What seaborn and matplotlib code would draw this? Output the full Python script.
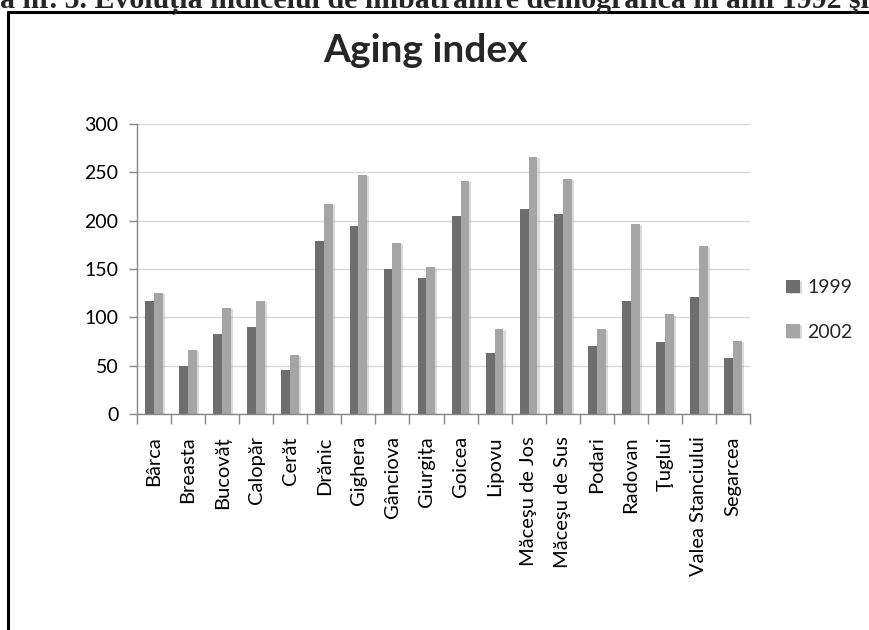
import matplotlib
matplotlib.use('Agg')
import matplotlib.pyplot as plt
import matplotlib.patheffects as pe
from matplotlib.lines import Line2D
import numpy as np
import pandas as pd
import seaborn as sns

# date
communes = ['Bârca', 'Breasta', 'Bucovăț', 'Calopăr', 'Cerăt', 'Drănic', 'Gighera',
            'Gânciova', 'Giurgița', 'Goicea', 'Lipovu', 'Măceşu de Jos', 'Măceşu de Sus',
            'Podari', 'Radovan', 'Ţuglui', 'Valea Stanciului', 'Segarcea']
years = ['1999', '2002']
values_1999 = [117, 50, 83, 90, 46, 179, 194, 150, 141, 205, 63, 212, 207, 70, 117, 74, 121, 58]
values_2002 = [125, 66, 110, 117, 61, 217, 247, 177, 152, 241, 88, 266, 243, 88, 197, 103, 174, 76]
y_ticks = [0, 50, 100, 150, 200, 250, 300]

caption = 'a nr. 5. Evoluția indicelui de îmbătrânire demografică în anii 1992 şi'
title = 'Aging index'

df = pd.DataFrame({
    'commune': communes * 2,
    'year': [years[0]] * len(communes) + [years[1]] * len(communes),
    'value': values_1999 + values_2002,
})

sns.set_theme(style='white')
plt.rcParams['font.family'] = ['Lato', 'DejaVu Sans']

fig = plt.figure(figsize=(8.69, 6.30), dpi=100)
ax = fig.add_axes([137 / 869, 1 - 414 / 630, 613 / 869, 290 / 630])

sns.barplot(data=df, x='commune', y='value', hue='year', palette=['#6e6e6e', '#a5a5a5'],
            width=0.52, saturation=1, linewidth=0, ax=ax)

# umbra barelor (ca in Excel)
for p in ax.patches:
    p.set_path_effects([pe.SimplePatchShadow(offset=(1.5, -0.8), shadow_rgbFace='#9a9a9a', alpha=0.35),
                        pe.Normal()])

ax.set_xlim(-0.5, len(communes) - 0.5)
ax.set_ylim(0, 300)
ax.set_yticks(y_ticks)
ax.set_xlabel('')
ax.set_ylabel('')
ax.set_xticks(range(len(communes)))
ax.set_xticklabels(communes, rotation=90, va='top', ha='center')
ax.set_xticks(np.arange(-0.5, len(communes), 1), minor=True)
ax.tick_params(axis='x', which='major', length=0, pad=16, labelsize=14.5, colors='#000000')
ax.tick_params(axis='x', which='minor', length=7, width=1, color='#868686', direction='out', bottom=True)
ax.tick_params(axis='y', length=5.5, width=1, color='#868686', direction='out', left=True,
               pad=8, labelsize=14, labelcolor='#000000')

ax.yaxis.grid(True, color='#d9d9d9', lw=1)
ax.set_axisbelow(True)
for s in ['top', 'right']:
    ax.spines[s].set_visible(False)
for s in ['left', 'bottom']:
    ax.spines[s].set_color('#868686')
    ax.spines[s].set_linewidth(1)

handles, labels = ax.get_legend_handles_labels()
ax.legend_.remove()
fig.legend(handles, labels, loc='center left', bbox_to_anchor=(786 / 869, 1 - 310 / 630),
           bbox_transform=fig.transFigure, frameon=False, fontsize=14,
           handlelength=0.7, handleheight=0.7, handletextpad=0.4, labelspacing=1.4,
           borderpad=0, borderaxespad=0)

fig.text(425 / 869, 1 - 50 / 630, title, ha='center', va='center', fontsize=28, fontweight='bold')

# chenarul si legenda figurii din document
fig.text(0.0, 1 - 8 / 630, caption, ha='left', va='baseline', fontsize=21.5, fontweight='bold',
         family=['Liberation Serif', 'DejaVu Serif'])
fig.add_artist(Line2D([8 / 869, 1.0], [1 - 12 / 630, 1 - 12 / 630], color='black', lw=2.2,
                      transform=fig.transFigure))
fig.add_artist(Line2D([8 / 869, 8 / 869], [1 - 12 / 630, 0.0], color='black', lw=2.2,
                      transform=fig.transFigure))

fig.savefig('out.png', dpi=100)
